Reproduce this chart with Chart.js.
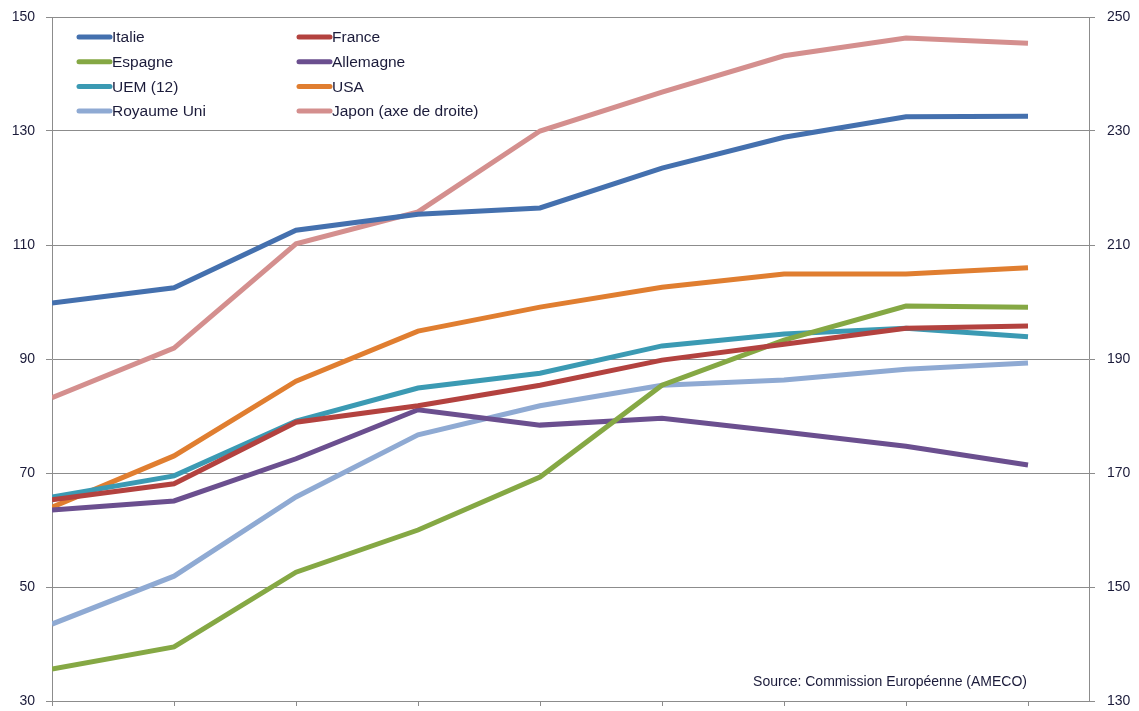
<!DOCTYPE html>
<html>
<head>
<meta charset="utf-8">
<script src="https://cdn.jsdelivr.net/npm/chart.js@4/dist/chart.umd.min.js"></script>
<style>
  html, body { margin: 0; padding: 0; background: #fff; }
  #wrap { width: 1139px; height: 711px; }
</style>
</head>
<body>
<div id="wrap"><canvas id="chart"></canvas></div>
<script>
// positions on the horizontal axis (one per period)
var periods = [0, 1, 2, 3, 4, 5, 6, 7, 8];

// left axis series
var italie     = [99.8, 102.5, 112.6, 115.4, 116.5, 123.5, 128.9, 132.5, 132.6];
var france     = [65.3, 68.1, 78.9, 81.8, 85.4, 89.8, 92.6, 95.4, 95.8];
var espagne    = [35.6, 39.5, 52.6, 60.0, 69.3, 85.4, 93.3, 99.3, 99.1];
var allemagne  = [63.5, 65.1, 72.5, 81.1, 78.4, 79.6, 77.2, 74.7, 71.4];
var uem12      = [65.8, 69.5, 79.1, 84.9, 87.5, 92.3, 94.4, 95.4, 93.9];
var usa        = [64.0, 73.0, 86.1, 94.9, 99.1, 102.6, 104.9, 104.9, 106.0];
var royaumeUni = [43.5, 51.9, 65.8, 76.7, 81.8, 85.4, 86.3, 88.2, 89.3];
// right axis series
var japon      = [183.2, 191.9, 210.2, 215.8, 230.0, 236.8, 243.2, 246.3, 245.4];

var leftTicks = [30, 50, 70, 90, 110, 130, 150];
var rightTicks = [130, 150, 170, 190, 210, 230, 250];

var TEXT = '#1b1b3a';
var GRID = '#8c8c8c';
var FONT = "'Liberation Sans', Arial, sans-serif";

function series(label, values, color, axis) {
  return {
    label: label,
    data: values.map(function (v, i) { return { x: periods[i], y: v }; }),
    borderColor: color,
    backgroundColor: color,
    borderWidth: 5,
    pointRadius: 0,
    tension: 0,
    yAxisID: axis || 'y'
  };
}

// fixed box sizes so the plot area sits where we want it
function fixSize(w, h) {
  return function (scale) {
    if (w !== null) scale.width = w;
    if (h !== null) scale.height = h;
    scale.paddingTop = 0;
    scale.paddingBottom = 0;
    scale.paddingLeft = 0;
    scale.paddingRight = 0;
  };
}

// two-column legend in the top-left corner
var gridLegend = {
  id: 'gridLegend',
  afterDraw: function (chart) {
    var ctx = chart.ctx;
    ctx.save();
    ctx.font = '15.5px ' + FONT;
    ctx.textBaseline = 'middle';
    ctx.lineCap = 'round';
    chart.data.datasets.forEach(function (ds, i) {
      var col = i % 2, row = Math.floor(i / 2);
      var x = col === 0 ? 79 : 299;
      var y = 37 + row * 24.7;
      ctx.strokeStyle = ds.borderColor;
      ctx.lineWidth = 5;
      ctx.beginPath();
      ctx.moveTo(x, y);
      ctx.lineTo(x + 31, y);
      ctx.stroke();
      ctx.fillStyle = TEXT;
      ctx.fillText(ds.label, x + 33, y + 1);
    });
    ctx.restore();
  }
};

var sourceNote = {
  id: 'sourceNote',
  afterDraw: function (chart) {
    var ctx = chart.ctx;
    ctx.save();
    ctx.font = '14px ' + FONT;
    ctx.fillStyle = TEXT;
    ctx.textAlign = 'right';
    ctx.textBaseline = 'middle';
    ctx.fillText('Source: Commission Européenne (AMECO)', 1027, 682);
    ctx.restore();
  }
};

new Chart(document.getElementById('chart'), {
  type: 'line',
  data: {
    datasets: [
      series('Italie', italie, '#4470ae'),
      series('France', france, '#b3423f'),
      series('Espagne', espagne, '#85a844'),
      series('Allemagne', allemagne, '#6b4f8f'),
      series('UEM (12)', uem12, '#3b9ab3'),
      series('USA', usa, '#e07e30'),
      series('Royaume Uni', royaumeUni, '#8faad3'),
      series('Japon (axe de droite)', japon, '#d48f8e', 'y1')
    ]
  },
  options: {
    responsive: true,
    maintainAspectRatio: false,
    animation: false,
    layout: { padding: { top: 17, left: 0, right: 0, bottom: 0 } },
    plugins: {
      legend: { display: false },
      tooltip: { enabled: false }
    },
    scales: {
      x: {
        type: 'linear',
        min: 0,
        max: 8.5,
        afterBuildTicks: function (scale) {
          scale.ticks = periods.map(function (p) { return { value: p }; });
        },
        afterFit: fixSize(null, 10),
        ticks: { display: false },
        grid: { drawOnChartArea: false, drawTicks: true, tickLength: 5, color: GRID },
        border: { color: GRID }
      },
      y: {
        position: 'left',
        min: 30,
        max: 150,
        afterBuildTicks: function (scale) {
          scale.ticks = leftTicks.map(function (v) { return { value: v }; });
        },
        afterFit: fixSize(52, null),
        ticks: { color: TEXT, font: { family: FONT, size: 14 }, padding: 11 },
        grid: { color: GRID, tickLength: 6 },
        border: { color: GRID }
      },
      y1: {
        position: 'right',
        min: 130,
        max: 250,
        afterBuildTicks: function (scale) {
          scale.ticks = rightTicks.map(function (v) { return { value: v }; });
        },
        afterFit: fixSize(50, null),
        ticks: { color: TEXT, font: { family: FONT, size: 14 }, padding: 12 },
        grid: { drawOnChartArea: false, color: GRID, tickLength: 6 },
        border: { color: GRID }
      }
    }
  },
  plugins: [gridLegend, sourceNote]
});
</script>
</body>
</html>
